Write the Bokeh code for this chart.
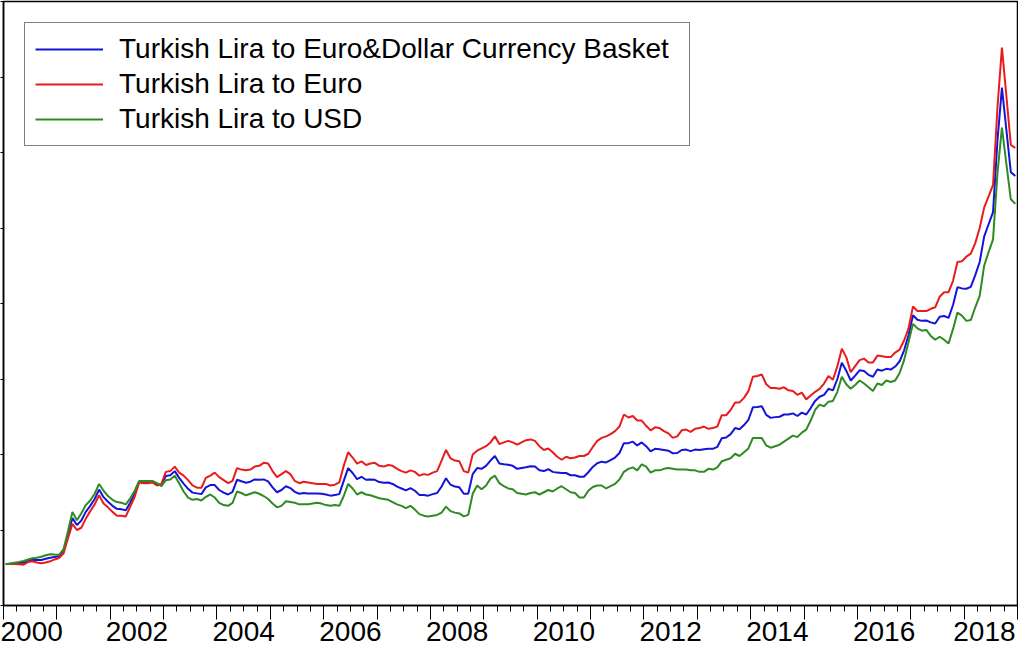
from bokeh.plotting import figure
from bokeh.models import Range1d, FixedTicker, LinearAxis, Legend, LegendItem, CustomJSTickFormatter
from bokeh.embed import file_html
from bokeh.resources import INLINE

# ---- data (monthly, Jan 2000 - Dec 2018) ----
start_year = 2000
label_years = [2000, 2002, 2004, 2006, 2008, 2010, 2012, 2014, 2016, 2018]
label_pos = [2000.5, 2002.5, 2004.5, 2006.5, 2008.5, 2010.5, 2012.5, 2014.5, 2016.5, 2018.38]
tick_years = list(range(2000, 2020))
y_ticks = [0, 1, 2, 3, 4, 5, 6, 7, 8]

basket = [
    0.548, 0.553, 0.559, 0.562, 0.565, 0.593, 0.605, 0.602, 0.603, 0.618, 0.633, 0.643,
    0.651, 0.718, 0.938, 1.160, 1.065, 1.125, 1.240, 1.320, 1.410, 1.535, 1.435, 1.375,
    1.320, 1.280, 1.275, 1.260, 1.365, 1.480, 1.640, 1.635, 1.635, 1.640, 1.605, 1.595,
    1.715, 1.725, 1.780, 1.690, 1.615, 1.545, 1.495, 1.485, 1.475, 1.565, 1.595, 1.595,
    1.530, 1.495, 1.470, 1.505, 1.665, 1.645, 1.625, 1.640, 1.670, 1.665, 1.670, 1.645,
    1.565, 1.500, 1.530, 1.580, 1.555, 1.505, 1.480, 1.490, 1.485, 1.485, 1.485, 1.480,
    1.470, 1.455, 1.465, 1.475, 1.650, 1.820, 1.755, 1.675, 1.705, 1.665, 1.670, 1.665,
    1.635, 1.625, 1.630, 1.610, 1.575, 1.550, 1.525, 1.555, 1.520, 1.465, 1.465, 1.455,
    1.475, 1.490, 1.575, 1.685, 1.600, 1.575, 1.565, 1.480, 1.480, 1.740, 1.820, 1.810,
    1.850, 1.920, 1.980, 1.880, 1.870, 1.865, 1.850, 1.810, 1.820, 1.830, 1.845, 1.840,
    1.790, 1.780, 1.805, 1.770, 1.760, 1.755, 1.755, 1.725, 1.725, 1.705, 1.705, 1.765,
    1.835, 1.885, 1.905, 1.895, 1.925, 1.960, 2.020, 2.150, 2.150, 2.170, 2.120, 2.160,
    2.110, 2.040, 2.075, 2.070, 2.060, 2.050, 2.015, 2.020, 2.060, 2.065, 2.045, 2.065,
    2.060, 2.070, 2.075, 2.075, 2.100, 2.215, 2.225, 2.270, 2.350, 2.335, 2.390, 2.460,
    2.625, 2.630, 2.640, 2.525, 2.485, 2.495, 2.500, 2.530, 2.530, 2.545, 2.510, 2.555,
    2.530, 2.615, 2.710, 2.765, 2.790, 2.870, 2.850, 3.000, 3.215, 3.110, 2.980, 3.045,
    3.115, 3.105, 3.055, 3.030, 3.125, 3.110, 3.135, 3.125, 3.165, 3.235, 3.380, 3.580,
    3.845, 3.785, 3.770, 3.775, 3.750, 3.735, 3.825, 3.835, 3.810, 3.980, 4.215, 4.200,
    4.195, 4.220, 4.375, 4.550, 4.885, 5.050, 5.210, 6.165, 6.860, 6.300, 5.740, 5.690,
]

eur = [
    0.550, 0.549, 0.550, 0.545, 0.540, 0.575, 0.585, 0.570, 0.560, 0.570, 0.585, 0.610,
    0.630, 0.690, 0.890, 1.080, 1.000, 1.030, 1.150, 1.250, 1.340, 1.460, 1.350, 1.300,
    1.24, 1.19, 1.19, 1.18, 1.31, 1.44, 1.63, 1.62, 1.62, 1.63, 1.59, 1.61,
    1.77, 1.78, 1.84, 1.76, 1.72, 1.66, 1.59, 1.56, 1.56, 1.69, 1.72, 1.76,
    1.70, 1.66, 1.62, 1.65, 1.82, 1.80, 1.79, 1.80, 1.84, 1.85, 1.89, 1.88,
    1.78, 1.70, 1.74, 1.78, 1.74, 1.65, 1.62, 1.64, 1.63, 1.62, 1.61, 1.61,
    1.61, 1.59, 1.60, 1.63, 1.85, 2.03, 1.96, 1.88, 1.91, 1.86, 1.88, 1.89,
    1.85, 1.84, 1.86, 1.85, 1.81, 1.78, 1.76, 1.79, 1.77, 1.72, 1.74, 1.73,
    1.76, 1.78, 1.92, 2.06, 1.95, 1.92, 1.91, 1.78, 1.76, 2.00, 2.05, 2.08,
    2.11, 2.16, 2.24, 2.14, 2.16, 2.18, 2.16, 2.13, 2.16, 2.19, 2.20, 2.18,
    2.11, 2.06, 2.08, 2.03, 1.97, 1.93, 1.97, 1.95, 1.96, 1.98, 1.98, 2.01,
    2.10, 2.18, 2.22, 2.24, 2.27, 2.31, 2.37, 2.53, 2.49, 2.51, 2.45, 2.45,
    2.38, 2.32, 2.36, 2.35, 2.31, 2.28, 2.22, 2.24, 2.32, 2.33, 2.30, 2.34,
    2.35, 2.37, 2.34, 2.35, 2.37, 2.52, 2.52, 2.59, 2.69, 2.69, 2.75, 2.84,
    3.03, 3.04, 3.06, 2.93, 2.88, 2.88, 2.87, 2.89, 2.85, 2.84, 2.79, 2.82,
    2.73, 2.78, 2.83, 2.87, 2.94, 3.04, 2.99, 3.17, 3.40, 3.29, 3.09, 3.17,
    3.25, 3.27, 3.22, 3.22, 3.31, 3.30, 3.29, 3.29, 3.35, 3.39, 3.51, 3.67,
    3.96, 3.90, 3.90, 3.90, 3.93, 3.95, 4.09, 4.15, 4.15, 4.30, 4.55, 4.56,
    4.62, 4.66, 4.80, 5.00, 5.27, 5.42, 5.57, 6.60, 7.39, 6.75, 6.10, 6.06,
]

usd = [
    0.545, 0.556, 0.567, 0.578, 0.590, 0.610, 0.625, 0.633, 0.645, 0.665, 0.680, 0.675,
    0.672, 0.745, 0.985, 1.240, 1.130, 1.220, 1.330, 1.390, 1.480, 1.610, 1.520, 1.450,
    1.40, 1.37, 1.36, 1.34, 1.42, 1.52, 1.65, 1.65, 1.65, 1.65, 1.62, 1.58,
    1.66, 1.67, 1.72, 1.62, 1.51, 1.43, 1.40, 1.41, 1.39, 1.44, 1.47, 1.43,
    1.36, 1.33, 1.32, 1.36, 1.51, 1.49, 1.46, 1.48, 1.50, 1.48, 1.45, 1.41,
    1.35, 1.30, 1.32, 1.38, 1.37, 1.36, 1.34, 1.34, 1.34, 1.35, 1.36, 1.35,
    1.33, 1.32, 1.33, 1.32, 1.45, 1.61, 1.55, 1.47, 1.50, 1.47, 1.46, 1.44,
    1.42, 1.41, 1.40, 1.37, 1.34, 1.32, 1.29, 1.32, 1.27, 1.21, 1.19, 1.18,
    1.19, 1.20, 1.23, 1.31, 1.25, 1.23, 1.22, 1.18, 1.20, 1.48, 1.59, 1.54,
    1.59, 1.68, 1.72, 1.62, 1.58, 1.55, 1.54, 1.49, 1.48, 1.47, 1.49, 1.50,
    1.47, 1.50, 1.53, 1.51, 1.55, 1.58, 1.54, 1.50, 1.49, 1.43, 1.43, 1.52,
    1.57, 1.59, 1.59, 1.55, 1.58, 1.61, 1.67, 1.77, 1.81, 1.83, 1.79, 1.87,
    1.84, 1.76, 1.79, 1.79, 1.81, 1.82, 1.81, 1.80, 1.80, 1.80, 1.79, 1.79,
    1.77, 1.77, 1.81, 1.80, 1.83, 1.91, 1.93, 1.95, 2.01, 1.98, 2.03, 2.08,
    2.22, 2.22, 2.22, 2.12, 2.09, 2.11, 2.13, 2.17, 2.21, 2.25, 2.23, 2.29,
    2.33, 2.45, 2.59, 2.66, 2.64, 2.70, 2.71, 2.83, 3.03, 2.93, 2.87, 2.92,
    2.98, 2.94, 2.89, 2.84, 2.94, 2.92, 2.98, 2.96, 2.98, 3.08, 3.25, 3.49,
    3.73, 3.67, 3.64, 3.65, 3.57, 3.52, 3.56, 3.52, 3.47, 3.66, 3.88, 3.84,
    3.77, 3.78, 3.95, 4.10, 4.50, 4.68, 4.85, 5.73, 6.33, 5.85, 5.38, 5.32,
]

series_labels = [
    "Turkish Lira to Euro&Dollar Currency Basket",
    "Turkish Lira to Euro",
    "Turkish Lira to USD",
]
series_colors = ["#1414d8", "#e81c1c", "#2e8b22"]

# time positions: middle of each month, as decimal years
months = [start_year + (i + 0.5) / 12 for i in range(len(usd))]
quarter_ticks = [y + q / 4 for y in tick_years[:-1] for q in (1, 2, 3)]

FONT = "Liberation Sans"

p = figure(
    width=1018, height=650,
    x_range=Range1d(2000, 2019), y_range=Range1d(0, 8),
    output_backend="svg", toolbar_location=None,
    x_axis_location=None, y_axis_location=None,
    min_border_left=0, min_border_right=1, min_border_top=1, min_border_bottom=45,
    background_fill_color="white", border_fill_color="white",
)
p.outline_line_color = "black"
p.outline_line_width = 1.5
p.grid.visible = False

blank = CustomJSTickFormatter(code="return '';")

yax = LinearAxis(
    ticker=FixedTicker(ticks=y_ticks, minor_ticks=[]),
    formatter=blank,
    major_tick_out=3, major_tick_in=0, minor_tick_out=0, minor_tick_in=0,
    axis_line_width=1.5, major_tick_line_width=1,
    major_label_standoff=0, major_label_text_font_size="1px",
)
p.add_layout(yax, "left")

xtick_axis = LinearAxis(
    ticker=FixedTicker(ticks=tick_years, minor_ticks=quarter_ticks),
    formatter=blank,
    major_tick_out=14, major_tick_in=0, minor_tick_out=6, minor_tick_in=0,
    axis_line_width=1.5, major_tick_line_width=1, minor_tick_line_width=1,
    major_label_standoff=0, major_label_text_font_size="1px",
)
p.add_layout(xtick_axis, "below")

xlabel_axis = LinearAxis(
    ticker=FixedTicker(ticks=label_pos, minor_ticks=[]),
    formatter=CustomJSTickFormatter(code="return String(Math.floor(tick));"),
    major_tick_out=0, major_tick_in=0, minor_tick_out=0, minor_tick_in=0,
    axis_line_color=None, major_tick_line_color=None, minor_tick_line_color=None,
    major_label_standoff=2,
    major_label_text_font=FONT, major_label_text_font_size="28px",
    major_label_text_color="black",
)
p.add_layout(xlabel_axis, "below")

renderers = []
for vals, col in zip([basket, eur, usd], series_colors):
    r = p.line(months, vals, line_color=col, line_width=2)
    renderers.append(r)

legend = Legend(
    items=[LegendItem(label=lab, renderers=[r]) for lab, r in zip(series_labels, renderers)],
    location="top_left", margin=21, padding=10, spacing=3,
    glyph_width=68, glyph_height=20, label_height=20, label_standoff=16,
    label_width=560,
    label_text_font=FONT, label_text_font_size="28px", label_text_color="black",
    border_line_color="black", border_line_width=1.5,
    background_fill_color="white", background_fill_alpha=1.0,
)
p.add_layout(legend)

open("out.html", "w").write(file_html(p, INLINE))
